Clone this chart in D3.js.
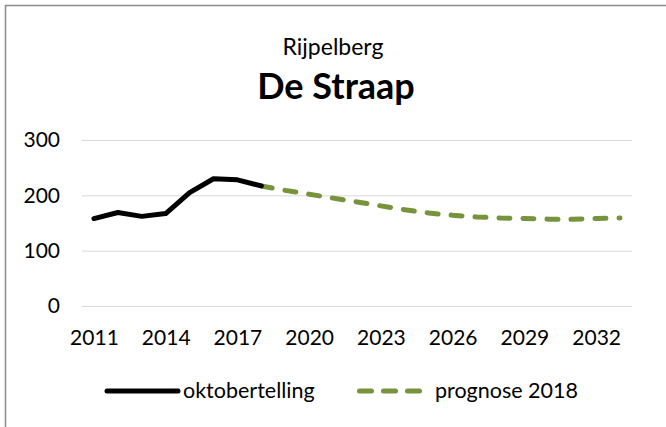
<!DOCTYPE html>
<html>
<head>
<meta charset="utf-8">
<script src="https://cdn.jsdelivr.net/npm/d3@7"></script>
<style>
  body { margin: 0; background: #fff; }
  svg { display: block; font-family: Lato, "Open Sans", sans-serif; }
</style>
</head>
<body>
<div id="root"></div>
<script>
const WIDTH = 666;
const HEIGHT = 427;
const MARGIN = {top: 140, right: 34, bottom: 121, left: 82};
const FONT = "Lato, 'Open Sans', sans-serif";

const years = d3.range(2011, 2034);
const tickYears = [2011, 2014, 2017, 2020, 2023, 2026, 2029, 2032];
const yTicks = [0, 100, 200, 300];

// oktobertelling 2011-2018
const countYears = [2011, 2012, 2013, 2014, 2015, 2016, 2017, 2018];
const countValues = [158, 169, 162, 167, 205, 230, 228, 217];

// prognose 2018, 2018-2033
const forecastYears = d3.range(2018, 2034);
const forecastValues = [217, 209, 202, 195, 188, 181, 174, 168, 164, 161, 159, 158, 157, 157, 158, 159];

const GREEN = "#77933C";

const svg = d3.select("#root")
    .append("svg")
    .attr("width", WIDTH)
    .attr("height", HEIGHT);

// chart border
svg.append("rect")
    .attr("x", 5.5).attr("y", 5.5)
    .attr("width", WIDTH).attr("height", HEIGHT)
    .attr("fill", "none")
    .attr("stroke", "#8c8c8c")
    .attr("stroke-width", 1.5);

const xScale = d3.scalePoint()
    .domain(years)
    .range([MARGIN.left, WIDTH - MARGIN.right])
    .padding(0.5);

const yScale = d3.scaleLinear()
    .domain([0, 300])
    .range([HEIGHT - MARGIN.bottom, MARGIN.top]);

// titles
svg.append("text")
    .attr("x", 333).attr("y", 55)
    .attr("text-anchor", "middle")
    .style("font-size", "23px")
    .text("Rijpelberg");

svg.append("text")
    .attr("x", 336).attr("y", 99)
    .attr("text-anchor", "middle")
    .style("font-size", "36px")
    .style("font-weight", "bold")
    .text("De Straap");

// gridlines + y labels
const yAxis = d3.axisLeft(yScale)
    .tickValues(yTicks)
    .tickSize(-(WIDTH - MARGIN.left - MARGIN.right))
    .tickPadding(22);

svg.append("g")
    .attr("transform", `translate(${MARGIN.left}, 0)`)
    .call(yAxis)
    .call(g => g.select(".domain").remove())
    .call(g => g.selectAll("line").attr("stroke", "#d9d9d9"))
    .call(g => g.selectAll("text").style("font-size", "21px").attr("fill", "#000")
        .style("font-family", FONT));

// x labels
const xAxis = d3.axisBottom(xScale)
    .tickValues(tickYears)
    .tickSize(0)
    .tickPadding(24);

svg.append("g")
    .attr("transform", `translate(0, ${HEIGHT - MARGIN.bottom})`)
    .call(xAxis)
    .call(g => g.select(".domain").remove())
    .call(g => g.selectAll("text").style("font-size", "21px").attr("fill", "#000")
        .style("font-family", FONT));

const line = d3.line()
    .x(d => xScale(d[0]))
    .y(d => yScale(d[1]));

svg.append("path")
    .datum(forecastYears.map((y, i) => [y, forecastValues[i]]))
    .attr("d", line)
    .attr("fill", "none")
    .attr("stroke", GREEN)
    .attr("stroke-width", 5)
    .attr("stroke-linecap", "round")
    .attr("stroke-dasharray", "11 13");

svg.append("path")
    .datum(countYears.map((y, i) => [y, countValues[i]]))
    .attr("d", line)
    .attr("fill", "none")
    .attr("stroke", "#000")
    .attr("stroke-width", 5)
    .attr("stroke-linejoin", "round")
    .attr("stroke-linecap", "round");

// legend
const legend = svg.append("g").attr("transform", "translate(0, 391)");

legend.append("line")
    .attr("x1", 107).attr("x2", 178)
    .attr("stroke", "#000").attr("stroke-width", 5).attr("stroke-linecap", "round");
legend.append("text")
    .attr("x", 183).attr("y", 7)
    .style("font-size", "21.5px")
    .text("oktobertelling");

legend.append("line")
    .attr("x1", 359.5).attr("x2", 419.5)
    .attr("stroke", GREEN).attr("stroke-width", 5).attr("stroke-linecap", "round")
    .attr("stroke-dasharray", "12 12");
legend.append("text")
    .attr("x", 435).attr("y", 7)
    .style("font-size", "21.5px")
    .text("prognose 2018");
</script>
</body>
</html>
